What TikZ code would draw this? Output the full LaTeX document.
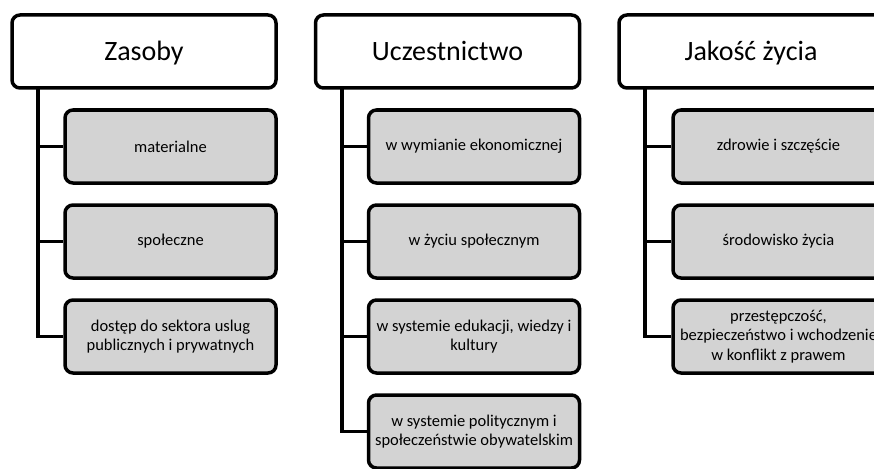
\documentclass[tikz,border=0pt]{standalone}
\usepackage{fontspec}
\setmainfont{Carlito}
\definecolor{boxgray}{RGB}{211,211,211}
\begin{document}
\begin{tikzpicture}[x=1pt,y=-1pt,
  head/.style={draw, line width=3.5pt, rounded corners=8pt, fill=white,
    minimum width=264pt, minimum height=73pt, inner sep=0pt,
    text height=18pt, text depth=0pt,
    font=\fontsize{28}{32}\selectfont},
  item/.style={draw, line width=3.5pt, rounded corners=8pt, fill=boxgray,
    minimum width=211pt, minimum height=73pt, inner sep=0pt, align=center,
    font=\fontsize{16.5}{19.5}\selectfont},
  conn/.style={line width=3.5pt}]

  % Page
  \useasboundingbox (0,0) rectangle (874,468);
  \clip (0,0) rectangle (874,468);

  % Headers
  \node[head] (zas) at (144,51.5) {Zasoby};
  \node[head] (ucz) at (447.5,51.5) {Uczestnictwo};
  \node[head] (jak) at (751,51.5) {Jakość życia};

  % Trunks
  \coordinate (zastop) at (38,88);
  \coordinate (ucztop) at (342,88);
  \coordinate (jaktop) at (645,88);

  % Zasoby
  \foreach \i/\txt in {1/materialne, 2/społeczne,
      3/{dostęp do sektora uslug\\publicznych i prywatnych}} {
    \node[item] (zas\i) at (170.5,51.5+95*\i) {\txt};
    \draw[conn] (zastop) |- (zas\i.west);
  }

  % Uczestnictwo
  \foreach \i/\txt in {1/w wymianie ekonomicznej, 2/w życiu społecznym,
      3/{w systemie edukacji, wiedzy i\\kultury},
      4/{w systemie politycznym i\\społeczeństwie obywatelskim}} {
    \node[item] (ucz\i) at (474,51.5+95*\i) {\txt};
    \draw[conn] (ucztop) |- (ucz\i.west);
  }

  % Jakosc zycia
  \foreach \i/\txt in {1/zdrowie i szczęście, 2/środowisko życia,
      3/{przestępczość,\\bezpieczeństwo i wchodzenie\\w konflikt z prawem}} {
    \node[item] (jak\i) at (778.5,51.5+95*\i) {\txt};
    \draw[conn] (jaktop) |- (jak\i.west);
  }

\end{tikzpicture}
\end{document}
